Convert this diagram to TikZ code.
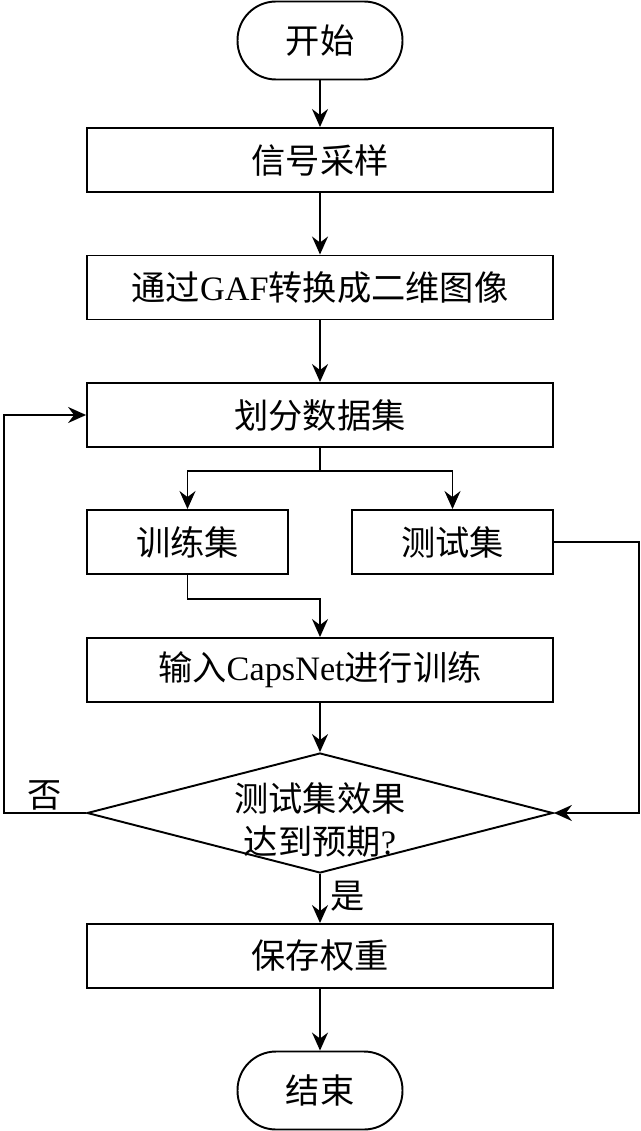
\documentclass[tikz,border=0pt]{standalone}
\usepackage{fontspec}
\setmainfont{Liberation Serif}
\newfontfamily\cjk{Noto Sans CJK SC}
\usetikzlibrary{arrows.meta,shapes.geometric}

\newcommand*{\xmin}{0}
\newcommand*{\xmax}{640}
\newcommand*{\ymin}{0}
\newcommand*{\ymax}{1131}

\begin{document}
\begin{tikzpicture}
[
	x=0.02cm, y=-0.02cm,
	every node/.style={font=\cjk\fontsize{19.5}{25}\selectfont},
	terminal/.style={rectangle,draw,line width=1.1pt,rounded corners=0.77cm,minimum width=3.3cm,minimum height=1.56cm,inner sep=0pt},
	stepbox/.style={rectangle,draw,line width=1.1pt,minimum width=9.32cm,minimum height=1.28cm,inner sep=0pt},
	halfbox/.style={rectangle,draw,line width=1.1pt,minimum width=4.02cm,minimum height=1.28cm,inner sep=0pt},
	decision/.style={diamond,draw,line width=1.1pt,aspect=3.88,minimum width=9.32cm,minimum height=2.4cm,inner sep=0pt},
	flow/.style={line width=1.1pt,-{Stealth[length=3.6mm,width=3.2mm,inset=1.2mm]}}
]

	% frame
	\useasboundingbox (\xmin,\ymin) rectangle (\xmax,\ymax);

	% boxes
	\node[terminal] at (320,40.5) (start) {开始};
	\node[stepbox] at (320,160) (sample) {信号采样};
	\node[stepbox] at (320,287.5) (gaf) {通过{\rmfamily GAF}转换成二维图像};
	\node[stepbox] at (320,415) (split) {划分数据集};
	\node[halfbox] at (187.5,542) (train) {训练集};
	\node[halfbox] at (452.5,542) (test) {测试集};
	\node[stepbox] at (320,670) (caps) {输入{\rmfamily CapsNet}进行训练};
	\node[decision] at (320,813) (check) {};
	\node[align=center] at (320,820) (checktext) {测试集效果\\[-1pt]达到预期{\rmfamily ?}};
	\node[stepbox] at (320,956) (save) {保存权重};
	\node[terminal] at (320,1090.5) (stop) {结束};

	% main line
	\draw[flow] (start) -- (sample);
	\draw[flow] (sample) -- (gaf);
	\draw[flow] (gaf) -- (split);

	% split into train and test
	\draw[flow] (split.south) -- ++(0,23) -| (train.north);
	\draw[flow] (split.south) -- ++(0,23) -| (test.north);

	% train
	\draw[flow] (train.south) -- ++(0,24) -| (caps.north);
	\draw[flow] (caps) -- (check);

	% test
	\draw[flow] (test.east) -- ++(85,0) |- (check.east);

	% no
	\draw[flow] (check.west) -- ++(-82,0) |- (split.west);
	\node at (45,795) (no) {否};

	% yes
	\draw[flow] (check.south) -- (save.north);
	\node at (348,896) (yes) {是};
	\draw[flow] (save) -- (stop);

\end{tikzpicture}
\end{document}
